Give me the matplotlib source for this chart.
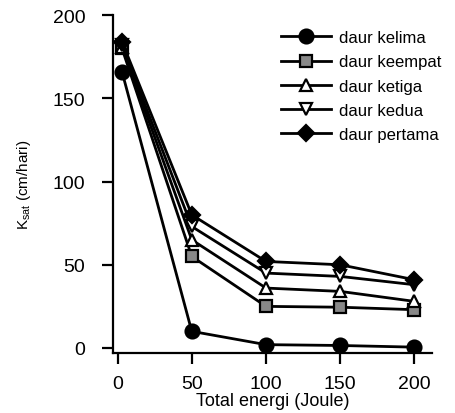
import numpy as np
import matplotlib.pyplot as plt

plt.rcParams['font.family'] = ['Liberation Sans', 'DejaVu Sans']

# total energy (Joule)
energi = [3, 50, 100, 150, 200]

kelima = [166, 10, 2, 1.5, 0.5]
keempat = [180, 55, 25, 24.5, 23]
ketiga = [181, 65, 36, 34, 28]
kedua = [182, 73, 45, 43, 38]
pertama = [184, 80, 52, 50, 41]

series = [
    (kelima, 'o', 'black', 'daur kelima', 10),
    (keempat, 's', '#888888', 'daur keempat', 9),
    (ketiga, '^', 'white', 'daur ketiga', 9),
    (kedua, 'v', 'white', 'daur kedua', 9),
    (pertama, 'D', 'black', 'daur pertama', 8.5),
]

fig = plt.figure(figsize=(4.56, 4.14), dpi=100)
ax = fig.add_axes([0.248, 0.145, 0.70, 0.816])

for vals, m, fc, lab, ms in series:
    ax.plot(energi, vals, '-', color='black', lw=2, marker=m, ms=ms,
            mfc=fc, mec='black', mew=1.6, label=lab)

ax.set_xlim(-3, 212)
ax.set_ylim(-3, 200)
ax.set_xticks([0, 50, 100, 150, 200])
ax.set_yticks([0, 50, 100, 150, 200])
ax.spines['top'].set_visible(False)
ax.spines['right'].set_visible(False)
ax.spines['left'].set_linewidth(1.6)
ax.spines['bottom'].set_linewidth(1.6)
ax.tick_params(direction='out', length=8, width=1.6, labelsize=14, pad=8)
ax.tick_params(axis='y', pad=12)
ax.set_xlabel('Total energi (Joule)', fontsize=13, labelpad=0)
ax.set_ylabel('K$_{\\mathregular{sat}}$ (cm/hari)', fontsize=11, labelpad=14)

ax.legend(loc='upper right', frameon=False, fontsize=12, handlelength=3.0,
          labelspacing=0.55, handletextpad=0.5, borderaxespad=0.0,
          bbox_to_anchor=(1.05, 0.975))

fig.savefig('out.png', dpi=100)
